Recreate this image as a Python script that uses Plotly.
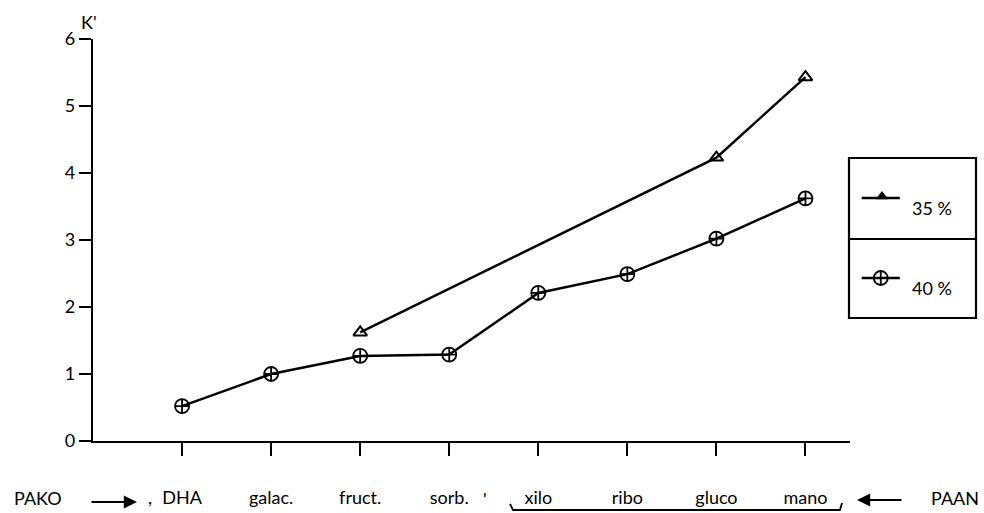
import plotly.graph_objects as go

# ---- data ----
categories = ["DHA", "galac.", "fruct.", "sorb.", "xilo", "ribo", "gluco", "mano"]
x_pos = [1, 2, 3, 4, 5, 6, 7, 8]
series_40 = [0.52, 1.0, 1.27, 1.29, 2.21, 2.49, 3.02, 3.62]
x_35 = [3, 7, 8]
series_35 = [1.62, 4.23, 5.43]
y_ticks = [0, 1, 2, 3, 4, 5, 6]
legend_labels = ["35 %", "40 %"]

W, H = 984, 513
FONT = "Lato"
FS = 18


def px(x):
    return x / W


def py(y):
    return 1 - y / H


def label(text, x, y, xanchor="center", size=FS):
    return dict(text=text, x=px(x), y=py(y), xref="paper", yref="paper",
                xanchor=xanchor, yanchor="middle", showarrow=False,
                font=dict(size=size, family=FONT, color="black"))


fig = go.Figure()

fig.add_trace(go.Scatter(
    x=x_35, y=series_35, mode="lines+markers",
    line=dict(color="black", width=2.5),
    marker=dict(symbol="triangle-up-open", size=12, color="black",
                line=dict(width=2, color="black")),
    showlegend=False, xaxis="x", yaxis="y"))

fig.add_trace(go.Scatter(
    x=x_pos, y=series_40, mode="lines+markers",
    line=dict(color="black", width=2.5),
    marker=dict(symbol="circle-cross-open", size=14, color="black",
                line=dict(width=1.8, color="black")),
    showlegend=False, xaxis="x", yaxis="y"))

# legend drawn in its own small axes
fig.add_trace(go.Scatter(
    x=[0.1, 0.4], y=[0.75, 0.75], mode="lines",
    line=dict(color="black", width=2.5), showlegend=False,
    xaxis="x2", yaxis="y2"))
fig.add_trace(go.Scatter(
    x=[0.26], y=[0.76], mode="markers",
    marker=dict(symbol="triangle-up", size=11, color="black"),
    showlegend=False, xaxis="x2", yaxis="y2"))
fig.add_trace(go.Scatter(
    x=[0.1, 0.4], y=[0.25, 0.25], mode="lines",
    line=dict(color="black", width=2.5), showlegend=False,
    xaxis="x2", yaxis="y2"))
fig.add_trace(go.Scatter(
    x=[0.25], y=[0.25], mode="markers",
    marker=dict(symbol="circle-cross-open", size=14, color="black",
                line=dict(width=1.8, color="black")),
    showlegend=False, xaxis="x2", yaxis="y2"))

shapes = [
    # legend box
    dict(type="rect", xref="paper", yref="paper",
         x0=px(849), x1=px(976), y0=py(318), y1=py(158),
         line=dict(color="black", width=2.2)),
    dict(type="line", xref="paper", yref="paper",
         x0=px(849), x1=px(976), y0=py(239), y1=py(239),
         line=dict(color="black", width=2.2)),
    # bracket under xilo..mano
    dict(type="path", xref="paper", yref="paper",
         path=f"M {px(510)},{py(504)} L {px(513)},{py(510)} L {px(840)},{py(510)} L {px(842)},{py(503)}",
         line=dict(color="black", width=1.8)),
]

annotations = [
    label("K'", 89, 22),
    label("PAKO", 38, 498),
    label("PAAN", 955, 498),
    # arrows
    dict(x=px(137), y=py(502), ax=-47, ay=0, xref="paper", yref="paper",
         axref="pixel", ayref="pixel", text="", showarrow=True,
         arrowhead=2, arrowsize=1.2, arrowwidth=2.2, arrowcolor="black"),
    dict(x=px(857), y=py(500), ax=46, ay=0, xref="paper", yref="paper",
         axref="pixel", ayref="pixel", text="", showarrow=True,
         arrowhead=2, arrowsize=1.2, arrowwidth=2.2, arrowcolor="black"),
    label(",", 150, 497),
    label("'", 485, 499),
    # legend labels
    label(legend_labels[0], 910, 208, xanchor="left"),
    label(legend_labels[1], 910, 288, xanchor="left"),
]

fig.update_layout(
    width=W, height=H,
    margin=dict(l=0, r=0, t=0, b=0, autoexpand=False),
    paper_bgcolor="white", plot_bgcolor="white",
    font=dict(family=FONT, size=FS, color="black"),
    xaxis=dict(domain=[px(93), px(850)], range=[0, 8.5], automargin=False,
               showgrid=False, zeroline=False, showline=True,
               linecolor="black", linewidth=2.2,
               tickmode="array", tickvals=x_pos, ticktext=categories,
               ticks="outside", ticklen=13, tickwidth=2, tickcolor="black",
               ticklabelstandoff=26, tickfont=dict(size=FS, family=FONT),
               anchor="y"),
    yaxis=dict(domain=[py(441), py(39)], range=[0, 6], automargin=False,
               showgrid=False, zeroline=False, showline=True,
               linecolor="black", linewidth=2.2,
               tickmode="array", tickvals=y_ticks,
               ticks="outside", ticklen=12, tickwidth=2, tickcolor="black",
               tickfont=dict(size=FS, family=FONT), anchor="x"),
    xaxis2=dict(domain=[px(849), px(976)], range=[0, 1], visible=False,
                anchor="y2", automargin=False),
    yaxis2=dict(domain=[py(318), py(158)], range=[0, 1], visible=False,
                anchor="x2", automargin=False),
    shapes=shapes,
    annotations=annotations,
)

fig.write_html("out.html")
